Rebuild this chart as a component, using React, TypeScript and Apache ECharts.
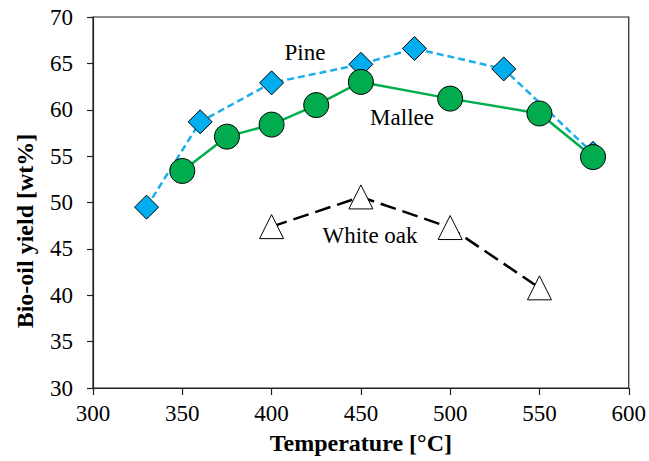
import React, { useEffect, useRef } from "react";
import * as echarts from "echarts";

const pineTemps = [330, 360, 400, 450, 480, 530, 580];
const pineYield = [49.5, 58.7, 62.9, 64.9, 66.6, 64.4, 55.3];

const malleeTemps = [350, 375, 400, 425, 450, 500, 550, 580];
const malleeYield = [53.4, 57.1, 58.4, 60.5, 63.0, 61.2, 59.6, 54.9];

const oakTemps = [400, 450, 500, 550];
const oakYield = [47.4, 50.6, 47.3, 40.8];

const xTicks = { min: 300, max: 600, interval: 50 };
const yTicks = { min: 30, max: 70, interval: 5 };

const FONT = "Liberation Serif";

const pairs = (xs: number[], ys: number[]) => xs.map((x, i) => [x, ys[i]]);

export default function App() {
  const ref = useRef<HTMLDivElement>(null);
  useEffect(() => {
    if (!ref.current) return;
    const chart = echarts.init(ref.current, null, { renderer: "svg" });
    chart.setOption({
      animation: false,
      backgroundColor: "#ffffff",
      grid: {
        left: 93,
        right: 20,
        top: 17,
        bottom: 73,
        show: true,
        borderColor: "#222",
        borderWidth: 1.2,
        containLabel: false,
      },
      xAxis: {
        type: "value",
        min: xTicks.min,
        max: xTicks.max,
        interval: xTicks.interval,
        name: "Temperature [°C]",
        nameLocation: "middle",
        nameGap: 43,
        nameTextStyle: { fontFamily: FONT, fontSize: 24, fontWeight: "bold", color: "#000" },
        axisLine: { show: true, lineStyle: { color: "#222", width: 1.2 } },
        axisTick: { show: true, inside: false, length: 7, lineStyle: { color: "#222", width: 1.2 } },
        axisLabel: { fontFamily: FONT, fontSize: 23, color: "#000", margin: 14 },
        splitLine: { show: false },
      },
      yAxis: {
        type: "value",
        min: yTicks.min,
        max: yTicks.max,
        interval: yTicks.interval,
        axisLine: { show: true, lineStyle: { color: "#222", width: 1.2 } },
        axisTick: { show: true, inside: false, length: 6, lineStyle: { color: "#222", width: 1.2 } },
        axisLabel: { fontFamily: FONT, fontSize: 23, color: "#000", margin: 20 },
        splitLine: { show: false },
      },
      graphic: [
        {
          type: "text",
          x: 25,
          y: 231,
          rotation: Math.PI / 2,
          style: {
            text: "Bio-oil yield [wt%]",
            fontFamily: FONT,
            fontSize: 24,
            fontWeight: "bold",
            fill: "#000",
            align: "center",
            verticalAlign: "middle",
          },
        },
        {
          type: "text",
          x: 305,
          y: 52,
          style: { text: "Pine", fontFamily: FONT, fontSize: 23, fill: "#000", align: "center", verticalAlign: "middle" },
        },
        {
          type: "text",
          x: 402,
          y: 117,
          style: { text: "Mallee", fontFamily: FONT, fontSize: 23, fill: "#000", align: "center", verticalAlign: "middle" },
        },
        {
          type: "text",
          x: 370,
          y: 235,
          style: { text: "White oak", fontFamily: FONT, fontSize: 23, fill: "#000", align: "center", verticalAlign: "middle" },
        },
      ],
      series: [
        {
          name: "White oak",
          type: "line",
          data: pairs(oakTemps, oakYield),
          symbol: "triangle",
          symbolSize: [24, 24],
          lineStyle: { color: "#000", width: 2.5, type: [16, 7] },
          itemStyle: { color: "#ffffff", borderColor: "#000", borderWidth: 1 },
          z: 2,
        },
        {
          name: "Pine",
          type: "line",
          data: pairs(pineTemps, pineYield),
          symbol: "diamond",
          symbolSize: 24,
          lineStyle: { color: "#1AAFEB", width: 2.5, type: [7, 4] },
          itemStyle: { color: "#00AEEF", borderColor: "#000", borderWidth: 1 },
          z: 3,
        },
        {
          name: "Mallee",
          type: "line",
          data: pairs(malleeTemps, malleeYield),
          symbol: "circle",
          symbolSize: 25,
          lineStyle: { color: "#00AE4D", width: 2.5 },
          itemStyle: { color: "#00AC4E", borderColor: "#000", borderWidth: 1 },
          z: 4,
        },
      ],
    });
    return () => chart.dispose();
  }, []);
  return <div ref={ref} style={{ width: 649, height: 461, position: "absolute", left: 0, top: 0 }} />;
}
